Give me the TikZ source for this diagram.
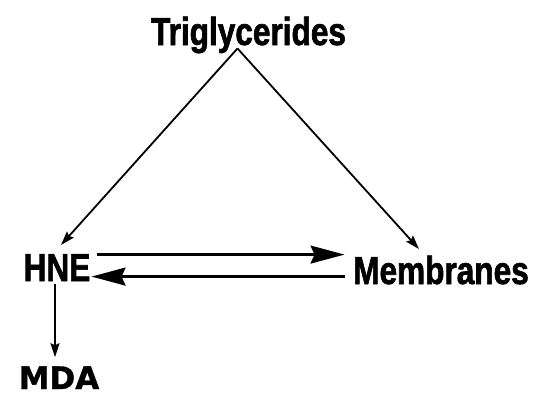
\documentclass[tikz,border=0pt]{standalone}
\usepackage{fontspec}
\usetikzlibrary{arrows.meta}
\newfontfamily\tagfont{Liberation Sans Bold}[FakeStretch=0.81,FakeBold=1.6]
\newfontfamily\mdafont{DejaVu Sans Bold}[FakeBold=1.2]
\begin{document}
\begin{tikzpicture}[>={Stealth[length=14pt,width=9pt,inset=2pt]},x=1pt,y=-1pt,
		lbl/.style={inner sep=0pt,anchor=base,font=\tagfont\fontsize{39}{40}\selectfont},
		big/.style={line width=2.2pt,-{Stealth[length=34pt,width=18pt,inset=4pt]}}]
		\useasboundingbox (0,0) rectangle (541,400);
		\node[lbl] (trig) at (248.5,45) {Triglycerides};
		\node[lbl] (hne) at (57,281) {HNE};
		\node[lbl] (mem) at (441,284) {Membranes};
		\node[inner sep=0pt,anchor=base,font=\mdafont\fontsize{31}{32}\selectfont] (mda) at (59,389) {MDA};
		\coordinate (apex) at ([xshift=-11pt,yshift=5pt]trig.south);
		\draw[->,line width=1.8pt] (apex) -- ([xshift=4pt,yshift=9pt]hne.north);
		\draw[->,line width=1.8pt] (apex) -- ([xshift=-22pt,yshift=6.5pt]mem.north);
		\coordinate (hneT) at ([xshift=6pt,yshift=13pt]hne.east);
		\coordinate (hneB) at ([xshift=1pt,yshift=-9pt]hne.east);
		\draw[big,shorten >=8.5pt] (hneT) -- (hneT -| mem.west);
		\draw[big,shorten <=8.5pt] (hneB -| mem.west) -- (hneB);
		\coordinate (hneD) at ([xshift=-2pt,yshift=-3pt]hne.south);
		\draw[->,line width=1.5pt,shorten >=9pt] (hneD) -- (hneD |- mda.north);
		\end{tikzpicture}
\end{document}
